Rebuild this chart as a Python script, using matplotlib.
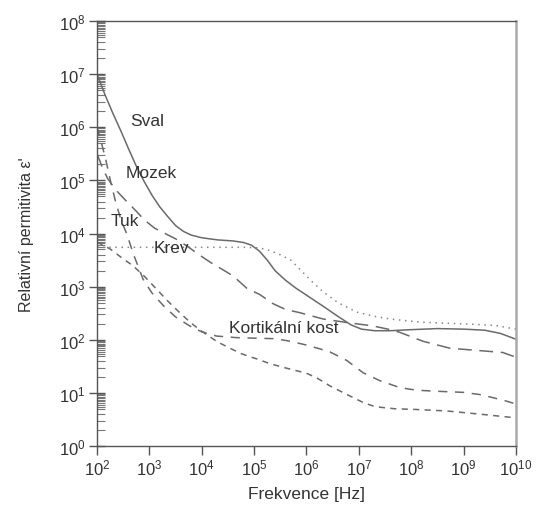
import numpy as np
import matplotlib
matplotlib.use('Agg')
import matplotlib.pyplot as plt
from matplotlib.ticker import LogLocator, NullLocator

plt.rcParams['font.family'] = ['Liberation Sans', 'DejaVu Sans']
plt.rcParams['mathtext.fontset'] = 'custom'
plt.rcParams['mathtext.rm'] = 'Liberation Sans'
plt.rcParams['mathtext.it'] = 'Liberation Sans'

# values as log10(frequency) / log10(permittivity)
sval_f = [2.0, 2.15, 2.3, 2.47, 2.6, 2.75, 2.9, 3.05, 3.2, 3.35, 3.5, 3.65, 3.8, 4.0, 4.3, 4.6,
          4.8, 4.95, 5.1, 5.25, 5.4, 5.6, 5.8, 6.06, 6.32, 6.6, 6.85, 7.05, 7.3, 7.6, 8.0, 8.5,
          9.0, 9.4, 9.7, 10.0]
sval_e = [7.0, 6.62, 6.27, 5.9, 5.6, 5.27, 4.98, 4.72, 4.5, 4.32, 4.15, 4.04, 3.97, 3.92, 3.88, 3.86,
          3.83, 3.78, 3.67, 3.5, 3.3, 3.12, 2.97, 2.8, 2.63, 2.44, 2.28, 2.2, 2.17, 2.17, 2.19, 2.21,
          2.2, 2.18, 2.12, 2.01]

krev_f = [2.0, 3.0, 4.0, 4.8, 5.1, 5.3, 5.5, 5.7, 5.9, 6.1, 6.32, 6.6, 6.96, 7.3, 7.6, 8.2,
          8.7, 9.2, 9.6, 10.0]
krev_e = [3.74, 3.74, 3.74, 3.74, 3.73, 3.68, 3.6, 3.5, 3.3, 3.1, 2.9, 2.7, 2.52, 2.44, 2.39, 2.33,
          2.31, 2.29, 2.27, 2.2]

mozek_f = [2.0, 2.1, 2.2, 2.35, 2.55, 2.75, 2.9, 3.1, 3.3, 3.5, 3.71, 3.95, 4.16, 4.4, 4.6, 4.86,
           5.11, 5.36, 5.6, 5.87, 6.32, 6.8, 7.27, 7.6, 7.78, 8.23, 8.74, 9.25, 9.75, 10.0]
mozek_e = [5.5, 5.25, 5.04, 4.83, 4.62, 4.42, 4.26, 4.1, 4.0, 3.9, 3.77, 3.6, 3.46, 3.32, 3.2, 2.97,
           2.85, 2.68, 2.57, 2.51, 2.39, 2.32, 2.26, 2.19, 2.14, 1.97, 1.84, 1.8, 1.76, 1.67]

kost_f = [2.0, 2.1, 2.17, 2.26, 2.36, 2.46, 2.57, 2.7, 2.88, 3.05, 3.27, 3.5, 3.77, 4.0, 4.28, 4.66,
          5.0, 5.4, 5.7, 6.0, 6.25, 6.45, 6.77, 7.08, 7.4, 7.78, 8.1, 8.5, 8.99, 9.3, 9.56, 9.8, 10.0]
kost_e = [6.0, 5.65, 5.38, 4.98, 4.58, 4.25, 3.99, 3.6, 3.14, 2.88, 2.64, 2.43, 2.26, 2.15, 2.07, 2.04,
          2.03, 2.02, 1.97, 1.9, 1.83, 1.77, 1.61, 1.38, 1.23, 1.1, 1.05, 1.03, 1.01, 0.97, 0.91, 0.85, 0.79]

tuk_f = [2.0, 2.25, 2.45, 2.69, 2.9, 3.14, 3.35, 3.58, 3.8, 4.03, 4.3, 4.54, 4.75, 4.92, 5.05, 5.3,
         5.56, 5.8, 6.0, 6.2, 6.45, 6.77, 7.08, 7.25, 7.4, 7.7, 8.04, 8.67, 9.31, 9.7, 10.0]
tuk_e = [3.84, 3.71, 3.56, 3.39, 3.2, 2.95, 2.73, 2.51, 2.31, 2.14, 1.96, 1.84, 1.74, 1.68, 1.64, 1.55,
         1.48, 1.42, 1.37, 1.28, 1.13, 0.97, 0.82, 0.76, 0.73, 0.7, 0.69, 0.66, 0.6, 0.56, 0.53]

x_exp = [2, 3, 4, 5, 6, 7, 8, 9, 10]
y_exp = [0, 1, 2, 3, 4, 5, 6, 7, 8]

gray = '#6a6a6a'

fig = plt.figure(figsize=(5.47, 5.06), dpi=100)
ax = fig.add_axes([0.1773, 0.1166, 0.766, 0.8399])

ax.plot(np.power(10.0, sval_f), np.power(10.0, sval_e), color=gray, lw=1.1, ls='-')
ax.plot(np.power(10.0, krev_f), np.power(10.0, krev_e), color='#888888', lw=1.1, ls=(0, (1, 3)))
ax.plot(np.power(10.0, mozek_f), np.power(10.0, mozek_e), color=gray, lw=1.1, ls=(0, (9, 5)))
ax.plot(np.power(10.0, kost_f), np.power(10.0, kost_e), color=gray, lw=1.1, ls=(0, (6, 5)))
ax.plot(np.power(10.0, tuk_f), np.power(10.0, tuk_e), color=gray, lw=1.1, ls=(0, (4, 3.5)))

ax.set_xscale('log')
ax.set_yscale('log')
ax.set_xlim(1e2, 1e10)
ax.set_ylim(1e0, 1e8)

ax.set_xticks([10.0 ** k for k in x_exp])
ax.set_xticklabels([f'$10^{{{k}}}$' for k in x_exp])
ax.set_yticks([10.0 ** k for k in y_exp])
ax.set_yticklabels([f'$10^{{{k}}}$' for k in y_exp])
ax.xaxis.set_minor_locator(NullLocator())
ax.yaxis.set_minor_locator(LogLocator(base=10, subs=[2, 3, 4, 5, 5.5, 6, 6.5, 7, 7.5, 8, 8.5, 9, 9.5], numticks=100))

ax.tick_params(axis='x', which='major', direction='out', length=6.5, width=1, color='#555555',
               labelsize=12, labelcolor='#333333', pad=2)
ax.tick_params(axis='y', which='major', direction='inout', length=12, width=1, color='#555555',
               labelsize=12, labelcolor='#333333', pad=2)
ax.tick_params(axis='y', which='minor', direction='in', length=6, width=0.8, color='#777777')

for side in ['left', 'bottom', 'top']:
    ax.spines[side].set_color('#555555')
    ax.spines[side].set_linewidth(1.0)
ax.spines['right'].set_color('#aaaaaa')
ax.spines['right'].set_linewidth(1.8)

ax.set_xlabel('Frekvence [Hz]', fontsize=12.5, color='#333333', labelpad=6)
ax.set_ylabel("Relativní permitivita ε'", fontsize=11.5, color='#333333', labelpad=18)

txt = dict(fontsize=12.5, color='#333333', ha='center', va='center')
ax.text(10 ** 2.96, 10 ** 6.13, 'Sval', **txt)
ax.text(10 ** 3.04, 10 ** 5.14, 'Mozek', **txt)
ax.text(10 ** 2.53, 10 ** 4.24, 'Tuk', **txt)
ax.text(10 ** 3.43, 10 ** 3.74, 'Krev', **txt)
ax.text(10 ** 5.57, 10 ** 2.23, 'Kortikální kost', **txt)

fig.savefig('out.png', dpi=100)
